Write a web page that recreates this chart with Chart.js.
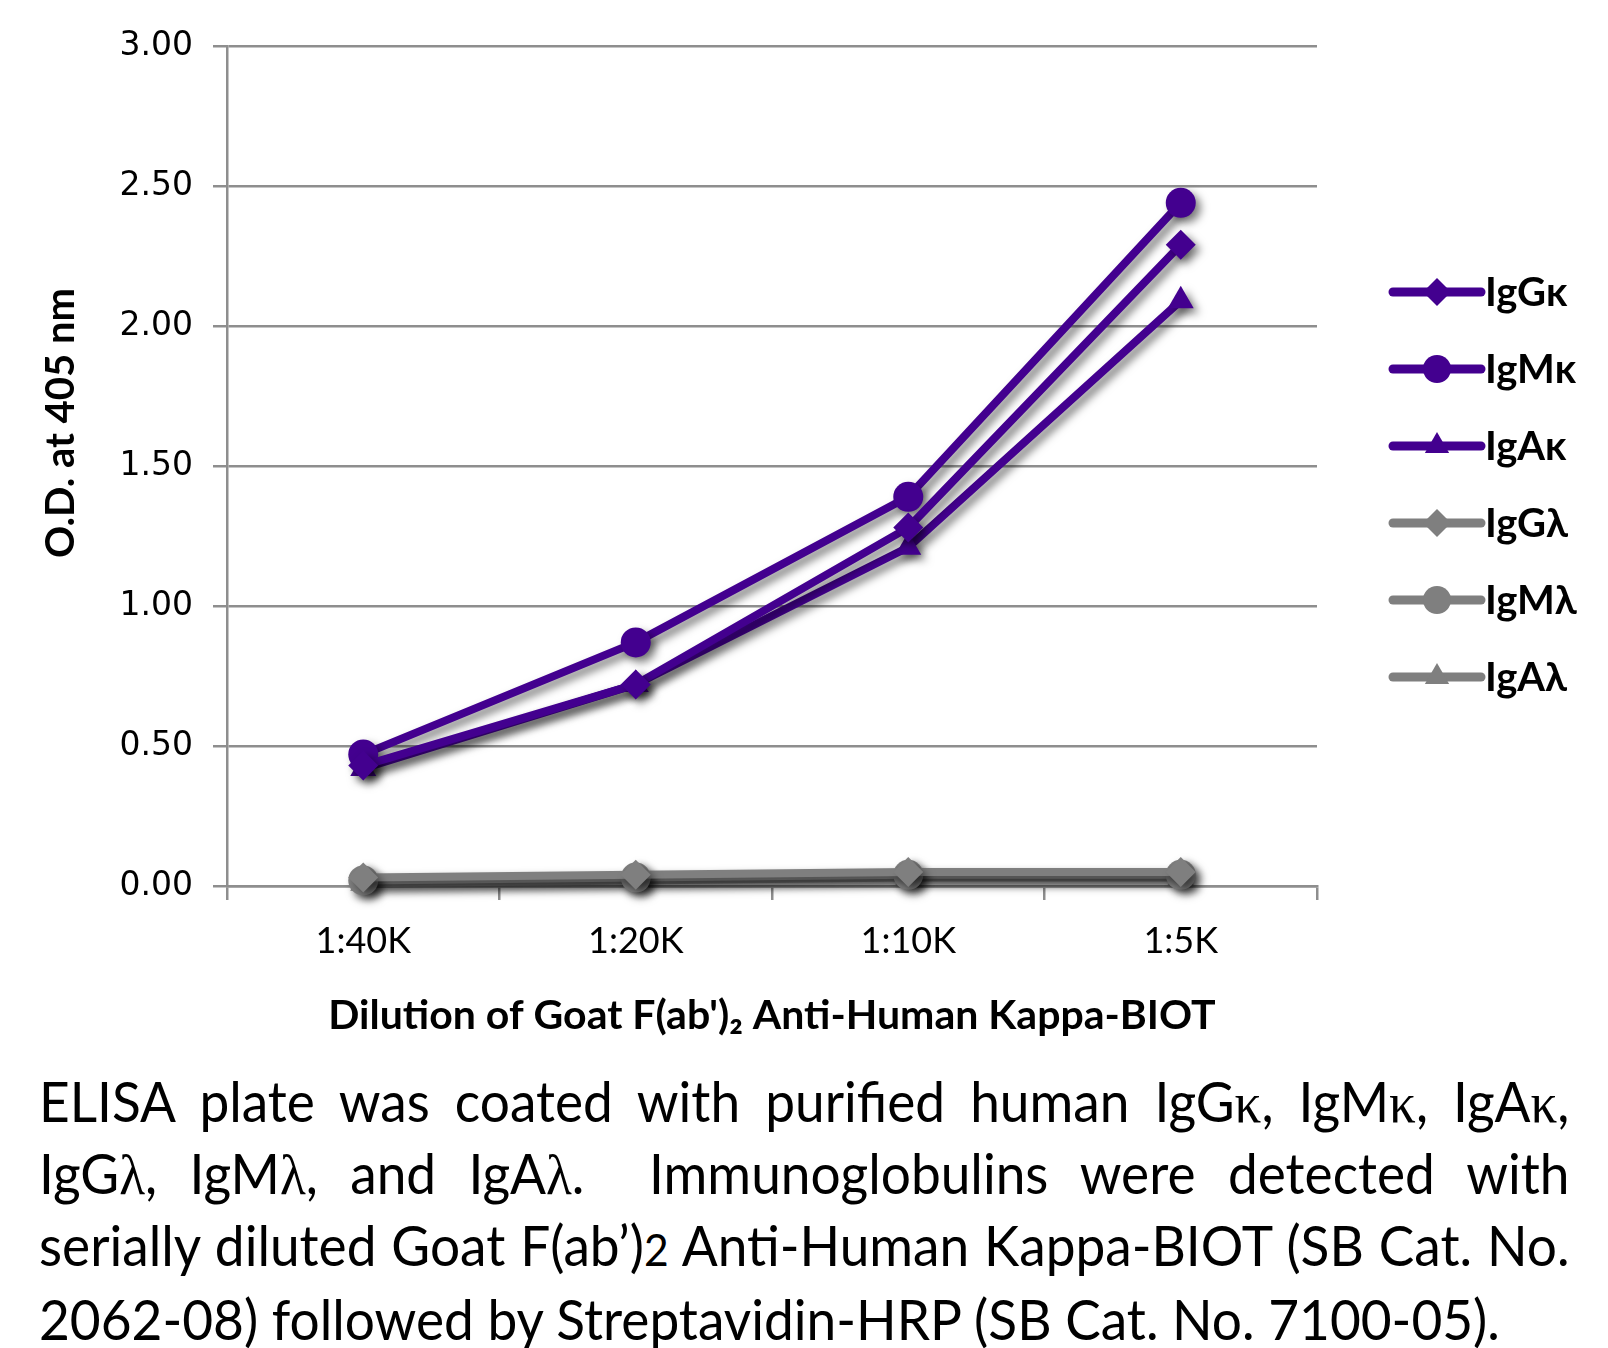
<!DOCTYPE html>
<html>
<head>
<meta charset="utf-8">
<title>ELISA - Goat F(ab')2 Anti-Human Kappa-BIOT</title>
<script src="https://cdn.jsdelivr.net/npm/chart.js@4.4.1/dist/chart.umd.min.js"></script>
<style>
  html, body { margin: 0; padding: 0; background: #fff; }
  #wrap { position: relative; width: 1608px; height: 1348px; overflow: hidden; }
  #elisaChart { position: absolute; left: 0; top: 0; }
  .caption {
    position: absolute; left: 39px; top: 1066px; width: 1611px;
    transform-origin: 0 0; transform: scaleX(0.95);
    font-family: Lato, "Noto Sans", sans-serif; font-size: 56px; line-height: 70px; color: #000;
  }
  .caption .ln { text-align: justify; text-align-last: justify; }
  .caption .ln.last { text-align: left; text-align-last: left; }
  .caption .gr { font-family: "Liberation Serif", "DejaVu Serif", serif; }
</style>
</head>
<body>
<div id="wrap">
  <canvas id="elisaChart" width="1608" height="1048"></canvas>
  <div class="caption">
    <div class="ln">ELISA plate was coated with purified human IgG<span class="gr">κ</span>, IgM<span class="gr">κ</span>, IgA<span class="gr">κ</span>,</div>
    <div class="ln">IgG<span class="gr">λ</span>, IgM<span class="gr">λ</span>, and IgA<span class="gr">λ</span>.&nbsp; Immunoglobulins were detected with</div>
    <div class="ln">serially diluted Goat F(ab’)<span style="font-size:0.8em">2</span> Anti-Human Kappa-BIOT (SB Cat. No.</div>
    <div class="ln last">2062-08) followed by Streptavidin-HRP (SB Cat. No. 7100-05).</div>
  </div>
</div>
<script>
// 稀释度（x轴分类）
const dilutions = ['1:40K', '1:20K', '1:10K', '1:5K'];

// O.D. 405 nm 读数
const igGKappa = [0.43, 0.72, 1.28, 2.29];
const igMKappa = [0.47, 0.87, 1.39, 2.44];
const igAKappa = [0.42, 0.72, 1.21, 2.09];
const igGLambda = [0.03, 0.04, 0.05, 0.05];
const igMLambda = [0.02, 0.03, 0.04, 0.04];
const igALambda = [0.01, 0.02, 0.03, 0.03];

// y轴刻度
const yMin = 0;
const yMax = 3;
const yStep = 0.5;

const PURPLE = '#43008f';
const GRAY = '#7f7f7f';
const GRID = '#8e8e8e';

const series = [
  { label: 'IgGκ', data: igGKappa, color: PURPLE, style: 'rectRot' },
  { label: 'IgMκ', data: igMKappa, color: PURPLE, style: 'circle' },
  { label: 'IgAκ', data: igAKappa, color: PURPLE, style: 'triangle' },
  { label: 'IgGλ', data: igGLambda, color: GRAY, style: 'rectRot' },
  { label: 'IgMλ', data: igMLambda, color: GRAY, style: 'circle' },
  { label: 'IgAλ', data: igALambda, color: GRAY, style: 'triangle' }
];

// 阴影：只作用于数据线和点
const shadowPlugin = {
  id: 'shadow',
  beforeDatasetsDraw(chart) {
    const ctx = chart.ctx;
    ctx.save();
    ctx.shadowColor = 'rgba(0,0,0,0.5)';
    ctx.shadowBlur = 9;
    ctx.shadowOffsetX = 5;
    ctx.shadowOffsetY = 5;
  },
  afterDatasetsDraw(chart) {
    chart.ctx.restore();
  }
};

// 竖排 y 轴标题
const yTitlePlugin = {
  id: 'yTitle',
  afterDraw(chart) {
    const ctx = chart.ctx;
    const { left, top, bottom } = chart.chartArea;
    ctx.save();
    ctx.translate(left - 166, (top + bottom) / 2 - 43);
    ctx.rotate(-Math.PI / 2);
    ctx.font = 'bold 40px Lato, "Noto Sans", sans-serif';
    ctx.fillStyle = '#000';
    ctx.textAlign = 'center';
    ctx.textBaseline = 'middle';
    ctx.fillText('O.D. at 405 nm', 0, 0);
    ctx.restore();
  }
};

// 图例：线 + 标记 + 文字
const legendPlugin = {
  id: 'lineLegend',
  afterDraw(chart) {
    const ctx = chart.ctx;
    const { right, top } = chart.chartArea;
    const x0 = right + 76;
    const lineLen = 88;
    const rowGap = 77;
    chart.data.datasets.forEach((ds, i) => {
      const y = top + 246 + i * rowGap;
      ctx.save();
      ctx.strokeStyle = ds.borderColor;
      ctx.lineWidth = 9;
      ctx.lineCap = 'round';
      ctx.beginPath();
      ctx.moveTo(x0, y);
      ctx.lineTo(x0 + lineLen, y);
      ctx.stroke();
      ctx.fillStyle = ds.pointBackgroundColor;
      Chart.helpers.drawPoint(ctx, { pointStyle: ds.pointStyle, radius: 14, rotation: 0, borderWidth: 0 }, x0 + lineLen / 2, y);
      ctx.font = 'bold 40px Lato, "Noto Sans", sans-serif';
      ctx.fillStyle = '#000';
      ctx.textAlign = 'left';
      ctx.textBaseline = 'middle';
      ctx.fillText(ds.label, x0 + lineLen + 4, y + 1);
      ctx.restore();
    });
  }
};

const ctx = document.getElementById('elisaChart').getContext('2d');
new Chart(ctx, {
  type: 'line',
  data: {
    labels: dilutions,
    datasets: series.map(s => ({
      label: s.label,
      data: s.data,
      borderColor: s.color,
      backgroundColor: s.color,
      borderWidth: 8,
      borderJoinStyle: 'round',
      pointStyle: s.style,
      pointRadius: 15,
      pointBackgroundColor: s.color,
      pointBorderColor: s.color,
      pointBorderWidth: 0,
      tension: 0,
      fill: false,
      clip: false
    }))
  },
  options: {
    responsive: false,
    devicePixelRatio: 1,
    animation: false,
    events: [],
    layout: { padding: { top: 46, right: 291, bottom: 0, left: 0 } },
    plugins: {
      legend: { display: false },
      tooltip: { enabled: false }
    },
    scales: {
      x: {
        offset: true,
        grid: { drawOnChartArea: false, drawTicks: true, tickLength: 14, color: GRID, lineWidth: 2.5, offset: true },
        border: { color: GRID, width: 2.5 },
        ticks: { color: '#000', padding: 20, font: { family: 'Lato', size: 36 } },
        title: {
          display: true,
          text: "Dilution of Goat F(ab')₂ Anti-Human Kappa-BIOT",
          color: '#000',
          font: { family: 'Lato', size: 41, weight: 'bold' },
          padding: { top: 0, bottom: 8 }
        },
        afterFit(scale) { scale.height = 162; }
      },
      y: {
        min: yMin,
        max: yMax,
        grid: { color: GRID, lineWidth: 2.5, tickLength: 14 },
        border: { color: GRID, width: 2.5 },
        ticks: {
          stepSize: yStep,
          color: '#000',
          padding: 20,
          font: { family: '"DejaVu Sans"', size: 33 },
          callback: v => v.toFixed(2)
        },
        afterFit(scale) { scale.width = 227; }
      }
    }
  },
  plugins: [shadowPlugin, yTitlePlugin, legendPlugin]
});
</script>
</body>
</html>
